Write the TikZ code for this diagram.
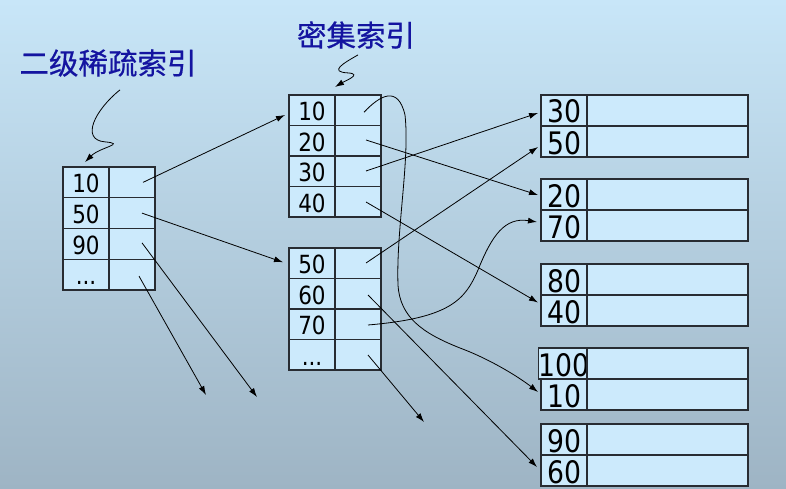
\documentclass[tikz,border=0pt]{standalone}
\usepackage{fontspec}
\setmainfont{DejaVu Sans}[FakeStretch=0.86]
\newfontfamily\cjk{Noto Sans CJK SC}[FakeBold=0.6]
\usetikzlibrary{arrows.meta}
\definecolor{bgtop}{RGB}{200,230,248}
\definecolor{bgbot}{RGB}{158,180,196}
\definecolor{cellfill}{RGB}{204,234,252}
\definecolor{cellline}{RGB}{40,44,50}
\definecolor{titleblue}{RGB}{20,20,160}
\tikzset{
  cellbase/.style={draw=cellline, line width=1.3pt, fill=cellfill, inner sep=0pt, outer sep=0pt},
  idxkey/.style={cellbase, minimum width=46pt, minimum height=30.6pt, font=\fontsize{25}{25}\selectfont, text height=20.6pt, text depth=0pt},
  idxptr/.style={cellbase, minimum width=46pt, minimum height=30.6pt},
  datkey/.style={cellbase, minimum width=46pt, minimum height=31pt, font=\fontsize{31}{31}\selectfont, text height=25pt, text depth=0pt},
  datval/.style={cellbase, minimum width=161pt, minimum height=31pt},
  conn/.style={line width=0.8pt, -{Latex[length=9pt,width=6pt]}},
  title/.style={font=\cjk\fontsize{29.5}{30}\selectfont, text=titleblue, inner sep=0pt}
}
\begin{document}
\begin{tikzpicture}[x=1pt,y=-1pt]
\shade[top color=bgtop, bottom color=bgbot] (0,0) rectangle (786,489);
\useasboundingbox (0,0) rectangle (786,489);

% titles
\node[title] (t1) at (108,63) {二级稀疏索引};
\node[title] (t2) at (356,35) {密集索引};

% sparse index
\foreach \i/\k in {1/10,2/50,3/90} {
  \node[idxkey] (sk\i) at (86,{167+30.75*(\i-0.5)}) {\k};
  \node[idxptr] (sp\i) at (132,{167+30.75*(\i-0.5)}) {};
}
\node[idxkey] (sk4) at (86,{167+30.75*3.5}) {...};
\node[idxptr] (sp4) at (132,{167+30.75*3.5}) {};

% dense index, top block
\foreach \i/\k in {1/10,2/20,3/30,4/40} {
  \node[idxkey] (dk\i) at (312,{95+30.5*(\i-0.5)}) {\k};
  \node[idxptr] (dp\i) at (358,{95+30.5*(\i-0.5)}) {};
}
% dense index, bottom block
\foreach \i/\k in {5/50,6/60,7/70} {
  \node[idxkey] (dk\i) at (312,{248+30.5*(\i-4.5)}) {\k};
  \node[idxptr] (dp\i) at (358,{248+30.5*(\i-4.5)}) {};
}
\node[idxkey] (dk8) at (312,{248+30.5*3.5}) {...};
\node[idxptr] (dp8) at (358,{248+30.5*3.5}) {};

% data blocks
\foreach \b/\top/\ka/\kb in {1/95/30/50, 2/179/20/70, 3/264/80/40, 4/348/100/10, 5/424/90/60} {
  \pgfmathtruncatemacro{\ra}{2*\b-1}
  \pgfmathtruncatemacro{\rb}{2*\b}
  \node[datkey] (bk\ra) at (564,{\top+15.5}) {\ka};
  \node[datval] (bv\ra) at (667.5,{\top+15.5}) {};
  \node[datkey] (bk\rb) at (564,{\top+46.5}) {\kb};
  \node[datval] (bv\rb) at (667.5,{\top+46.5}) {};
}

% free ends
\coordinate (e1) at (257,397);
\coordinate (e2) at (206,395);
\coordinate (e3) at (424,422);

% squiggles from titles
\draw[conn] ([shift={(12,13)}]t1.south) .. controls +(-25,20) and +(-25,-2) .. ([shift={(-3,65)}]t1.south)
   .. controls +(22,2) and +(15,-15) .. ([shift={(-1,-5)}]sk1.north);
\draw[conn] ([shift={(2,6)}]t2.south) .. controls +(-14,8) and +(-20,-1) .. ([shift={(-8,24)}]t2.south)
   .. controls +(15,1) and +(10,-6) .. ([shift={(23,-8)}]dk1.north);

% sparse -> dense
\draw[conn] ([xshift=11pt]sp1.center) -- ([shift={(-4,4.75)}]dk1.west);
\draw[conn] ([xshift=10pt]sp2.center) -- ([shift={(-6,-1)}]dk5.west);
\draw[conn] ([shift={(10,-1)}]sp3.center) -- (e1);
\draw[conn] ([shift={(7,1.5)}]sp4.center) -- (e2);

% dense -> data
\draw[conn] ([shift={(6,2)}]dp1.center) .. controls +(16,-17) and +(-7,-30) .. (405,115)
   .. controls +(5,45) and +(-2,-55) .. (398,285)
   .. controls +(2,32) and +(-38,-15) .. (460,348)
   .. controls +(32,12) and +(-18,-14) .. ([shift={(-3,-2.5)}]bk8.west);
\draw[conn] ([shift={(8,-0.75)}]dp2.center) -- ([shift={(-3,0.5)}]bk3.west);
\draw[conn] ([shift={(8,-0.25)}]dp3.center) -- ([shift={(-3,2.5)}]bk1.west);
\draw[conn] ([shift={(8,0.25)}]dp4.center) -- ([shift={(-3,-8)}]bk6.west);
\draw[conn] ([shift={(8,-0.25)}]dp5.center) -- ([shift={(-3,5.5)}]bk2.west);
\draw[conn] ([shift={(10,1.25)}]dp6.center) -- ([shift={(-4,-3.5)}]bk10.west);
\draw[conn] ([shift={(10,0.75)}]dp7.center) .. controls +(82,-7) and +(-13,30) .. (478,270)
   .. controls +(14,-35) and +(-32,-5) .. ([shift={(-4,-3.5)}]bk4.west);
\draw[conn] ([shift={(10,0.25)}]dp8.center) -- (e3);
\end{tikzpicture}
\end{document}
